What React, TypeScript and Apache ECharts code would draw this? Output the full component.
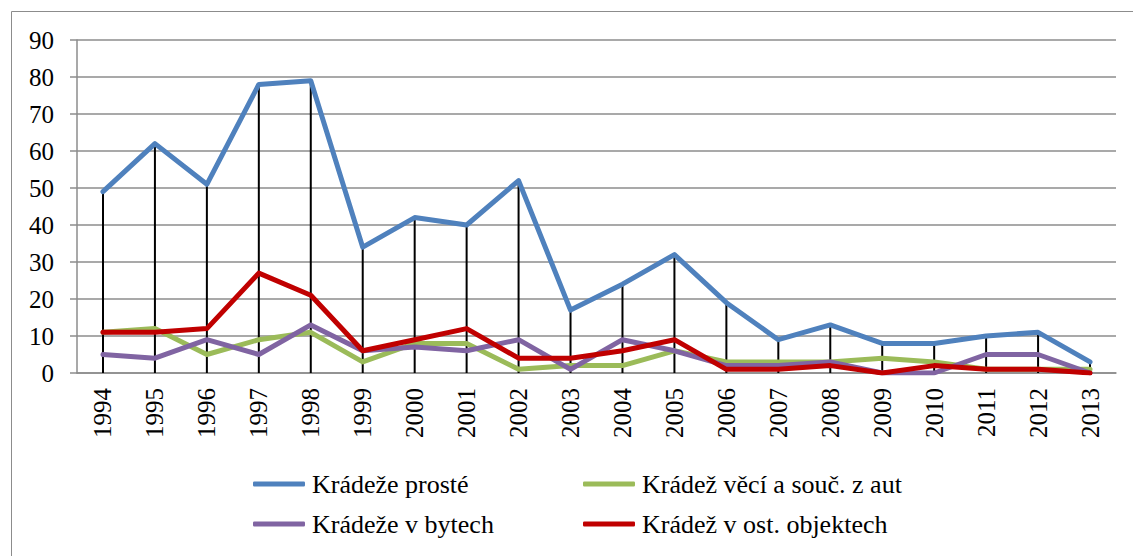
import React, { useEffect, useRef } from "react";
import * as echarts from "echarts";

const years = ["1994","1995","1996","1997","1998","1999","2000","2001","2002","2003","2004","2005","2006","2007","2008","2009","2010","2011","2012","2013"];
const kradezeProste = [49, 62, 51, 78, 79, 34, 42, 40, 52, 17, 24, 32, 19, 9, 13, 8, 8, 10, 11, 3];
const kradezZAut = [11, 12, 5, 9, 11, 3, 8, 8, 1, 2, 2, 6, 3, 3, 3, 4, 3, 1, 1, 1];
const kradezeVBytech = [5, 4, 9, 5, 13, 6, 7, 6, 9, 1, 9, 6, 2, 2, 3, 0, 0, 5, 5, 0];
const kradezVOstObjektech = [11, 11, 12, 27, 21, 6, 9, 12, 4, 4, 6, 9, 1, 1, 2, 0, 2, 1, 1, 0];

const seriesNames = [
  "Krádeže prosté",
  "Krádež věcí a souč. z aut",
  "Krádeže v bytech",
  "Krádež v ost. objektech",
];
const seriesColors = ["#4F81BD", "#9BBB59", "#8064A2", "#C00000"];
const seriesData = [kradezeProste, kradezZAut, kradezeVBytech, kradezVOstObjektech];

const FONT = "serif";

export default function App() {
  const ref = useRef<HTMLDivElement>(null);
  useEffect(() => {
    if (!ref.current) return;
    const chart = echarts.init(ref.current, null, { renderer: "svg" });
    const dropLine = years.map((_, i) => Math.max(...seriesData.map((s) => s[i])));
    const legendPos = [
      { left: 253, top: 471 },
      { left: 583, top: 471 },
      { left: 253, top: 511 },
      { left: 583, top: 511 },
    ];
    chart.setOption({
      animation: false,
      backgroundColor: "#ffffff",
      textStyle: { fontFamily: FONT },
      graphic: [
        {
          type: "rect",
          shape: { x: 11.5, y: 11.5, width: 1200, height: 600 },
          style: { fill: "none", stroke: "#8c8c8c", lineWidth: 1 },
          silent: true,
        },
      ],
      grid: { left: 77, right: 17, top: 40, bottom: 183, containLabel: false },
      legend: seriesNames.map((n, i) => ({
        data: [n],
        left: legendPos[i].left,
        top: legendPos[i].top,
        icon: "roundRect",
        itemWidth: 52,
        itemHeight: 5,
        itemGap: 0,
        selectedMode: false,
        padding: 0,
        textStyle: { fontFamily: FONT, fontSize: 26, color: "#000", padding: [0, 0, 0, 2] },
      })),
      xAxis: {
        type: "category",
        data: years,
        boundaryGap: true,
        axisLine: { show: true, lineStyle: { color: "#8c8c8c", width: 1.5 } },
        axisTick: { show: false },
        axisLabel: {
          rotate: 90,
          margin: 15,
          fontFamily: FONT,
          fontSize: 25,
          color: "#000",
          interval: 0,
        },
      },
      yAxis: {
        type: "value",
        min: 0,
        max: 90,
        interval: 10,
        axisLine: { show: true, lineStyle: { color: "#8c8c8c", width: 1.5 } },
        axisTick: { show: true, length: 7, inside: false, lineStyle: { color: "#8c8c8c", width: 1.5 } },
        splitLine: { show: true, lineStyle: { color: "#8c8c8c", width: 1.5 } },
        axisLabel: { margin: 23, fontFamily: FONT, fontSize: 25, color: "#000" },
      },
      series: [
        {
          name: "drop",
          type: "bar",
          data: dropLine,
          barWidth: 2,
          itemStyle: { color: "#000" },
          z: 1,
          silent: true,
        },
        ...seriesNames.map((n, i) => ({
          name: n,
          type: "line",
          data: seriesData[i],
          symbol: "none",
          color: seriesColors[i],
          lineStyle: { color: seriesColors[i], width: 5, join: "round", cap: "round" },
          z: 2 + i,
        })),
      ],
    });
    return () => chart.dispose();
  }, []);
  return (
    <div
      ref={ref}
      style={{ position: "fixed", left: 0, top: 0, width: 1133, height: 556 }}
    />
  );
}
